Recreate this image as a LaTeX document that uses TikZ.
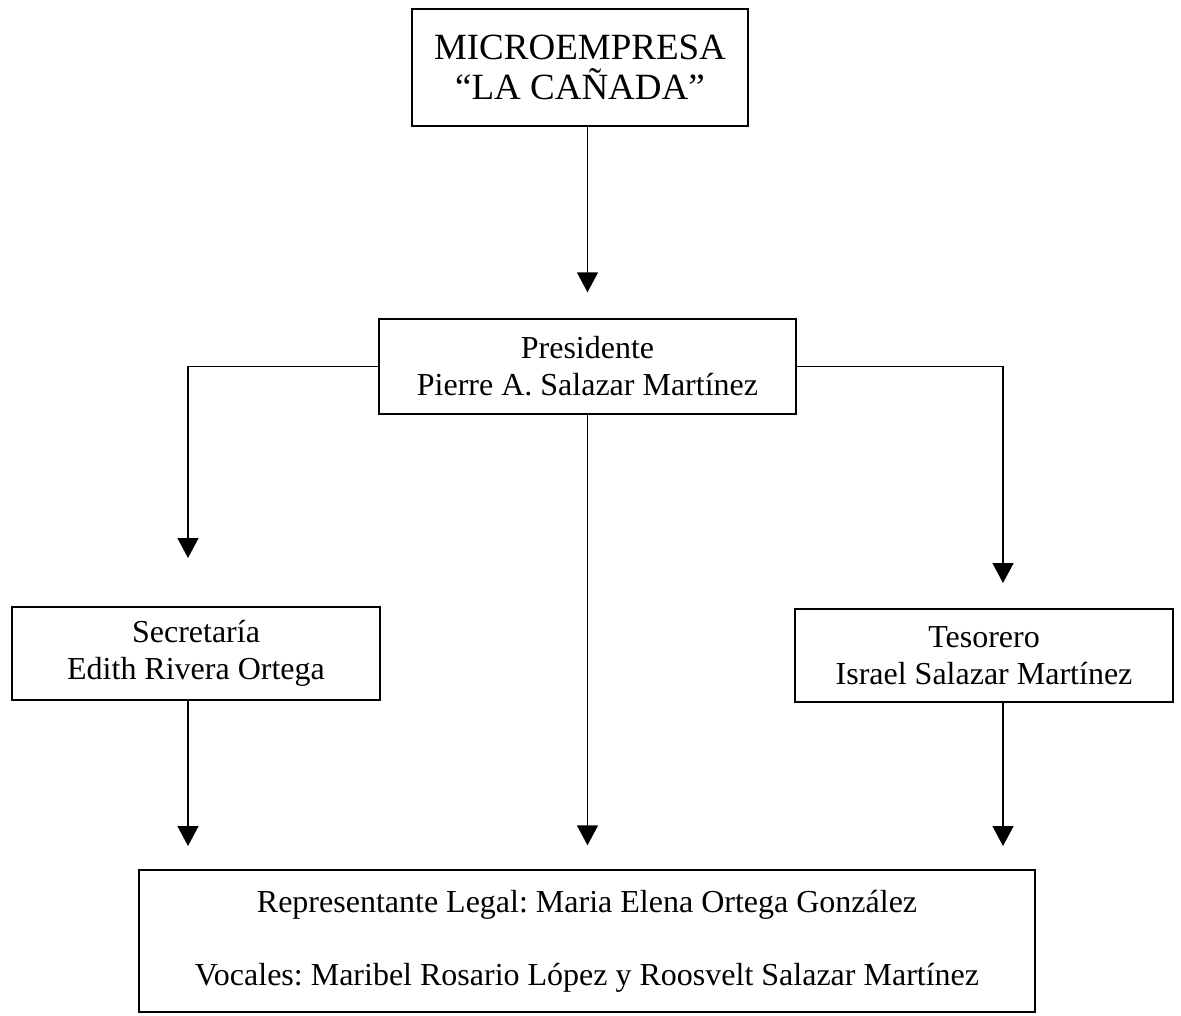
\documentclass[tikz,border=0pt]{standalone}
\usepackage{fontspec}
\setmainfont{Liberation Serif}
\usetikzlibrary{arrows.meta}
\frenchspacing
\begin{document}
\begin{tikzpicture}[x=1pt,y=-1pt,
  box/.style={draw,line width=1.4pt,inner sep=0pt,align=center,
    font=\fontsize{32}{37}\selectfont},
  titlebox/.style={box,font=\fontsize{37}{40}\selectfont},
  arr/.style={line width=1.5pt,-{Triangle[length=20pt,width=21pt]}}]
  \useasboundingbox (0,0) rectangle (1181,1015);

  % boxes
  \node[titlebox,minimum width=336pt,minimum height=117pt] (top) at (580,67.5)
    {MICROEMPRESA\\“LA CAÑADA”};
  \node[box,minimum width=417pt,minimum height=95pt] (pres) at (587.5,366.5)
    {Presidente\\Pierre A. Salazar Martínez};
  \node[box,minimum width=368pt,minimum height=93pt] (sec) at (196,653.5)
    {Secretaría\\Edith Rivera Ortega};
  \node[box,minimum width=378pt,minimum height=93pt] (tes) at (984,655.5)
    {Tesorero\\Israel Salazar Martínez};
  \node[box,minimum width=896pt,minimum height=142pt] (bot) at (587,941)
    {Representante Legal: Maria Elena Ortega González\\[36pt]
     Vocales: Maribel Rosario López y Roosvelt Salazar Martínez};

  % arrow end points
  \coordinate (lt) at (188,558);
  \coordinate (rt) at (1003,583);
  \coordinate (lb) at (188,846);
  \coordinate (rb) at (1003,846);

  % connectors
  \draw[arr,shorten >=26pt] (top.south -| pres.north) -- (pres.north);
  \draw[arr] (pres.west) -| (lt);
  \draw[arr] (pres.east) -| (rt);
  \draw[arr,shorten >=24pt] (pres.south) -- (pres.south |- bot.north);
  \draw[arr] (sec.south -| lb) -- (lb);
  \draw[arr] (tes.south -| rb) -- (rb);
\end{tikzpicture}
\end{document}
